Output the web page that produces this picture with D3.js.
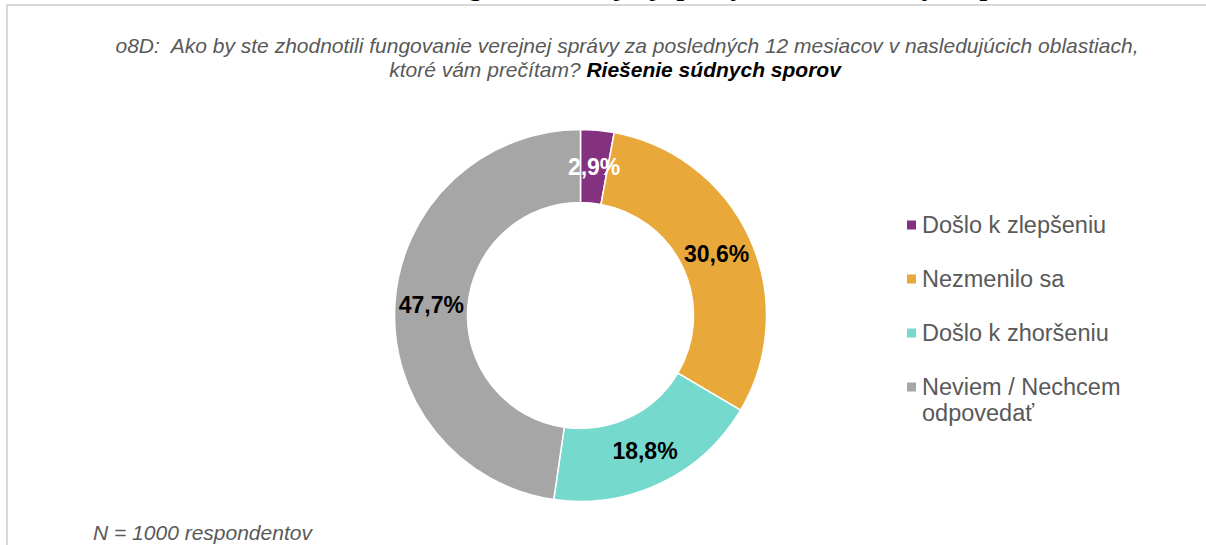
<!DOCTYPE html>
<html>
<head>
<meta charset="utf-8">
<script src="https://cdn.jsdelivr.net/npm/d3@7"></script>
<style>
  body { margin: 0; background: #fff; }
  svg { display: block; }
</style>
</head>
<body>
<script>
// data
const categories = ["Došlo k zlepšeniu", "Nezmenilo sa", "Došlo k zhoršeniu", "Neviem / Nechcem odpovedať"];
const values = [2.9, 30.6, 18.8, 47.7];
const colors = ["#84317F", "#E8A83A", "#76D9CE", "#A6A6A6"];
const labelColors = ["#ffffff", "#000000", "#000000", "#000000"];
const legendLines = [["Došlo k zlepšeniu"], ["Nezmenilo sa"], ["Došlo k zhoršeniu"], ["Neviem / Nechcem", "odpovedať"]];

const W = 1206, H = 545;
const svg = d3.select("body").append("svg").attr("width", W).attr("height", H);

// page title, mostly above the visible area (only descenders show)
svg.append("text")
  .attr("x", 668).attr("y", -5)
  .attr("text-anchor", "middle")
  .style("font-family", "'Liberation Serif', serif")
  .style("font-weight", "bold")
  .style("font-size", "27px")
  .text("Hodnotenie fungovania verejnej správy – riešenie súdnych sporov");

// chart frame
svg.append("rect")
  .attr("x", 7).attr("y", 5)
  .attr("width", W + 20).attr("height", H + 20)
  .attr("fill", "#fff")
  .attr("stroke", "#d9d9d9").attr("stroke-width", 2);

// subtitle
const sub = svg.append("text")
  .attr("text-anchor", "middle")
  .style("font-family", "'Liberation Sans', Arial, sans-serif")
  .style("font-style", "italic")
  .style("font-size", "21px")
  .attr("fill", "#595959");
sub.append("tspan").attr("x", 627).attr("y", 53)
  .text("o8D:  Ako by ste zhodnotili fungovanie verejnej správy za posledných 12 mesiacov v nasledujúcich oblastiach,")
  .style("white-space", "pre");
const l2 = sub.append("tspan").attr("x", 615).attr("y", 77);
l2.append("tspan").text("ktoré vám prečítam? ");
l2.append("tspan").attr("fill", "#000").style("font-weight", "bold").text("Riešenie súdnych sporov");

// donut
const cx = 580.5, cy = 315.5, rOut = 186, rIn = 113;
const pie = d3.pie().sort(null).value(d => d)(values);
const arc = d3.arc().innerRadius(rIn).outerRadius(rOut);
const labelArc = d3.arc().innerRadius((rIn + rOut) / 2).outerRadius((rIn + rOut) / 2);
const g = svg.append("g").attr("transform", `translate(${cx},${cy})`);

g.selectAll("path").data(pie).join("path")
  .attr("d", arc)
  .attr("fill", (d, i) => colors[i])
  .attr("stroke", "#fff").attr("stroke-width", 1.5);

const fmt = v => v.toFixed(1).replace(".", ",") + "%";
g.selectAll("text").data(pie).join("text")
  .attr("transform", d => `translate(${labelArc.centroid(d)})`)
  .attr("text-anchor", "middle")
  .attr("dy", "0.36em")
  .style("font-family", "'Liberation Sans', Arial, sans-serif")
  .style("font-weight", "bold")
  .style("font-size", "23px")
  .attr("fill", (d, i) => labelColors[i])
  .text(d => fmt(d.data));

// legend
const legY = d3.scalePoint().domain(categories).range([225, 387]);
const leg = svg.append("g");
categories.forEach((c, i) => {
  const y = legY(c);
  leg.append("rect").attr("x", 907).attr("y", y - 4.5).attr("width", 9).attr("height", 9).attr("fill", colors[i]);
  const t = leg.append("text")
    .style("font-family", "'Liberation Sans', Arial, sans-serif")
    .style("font-size", "23.5px")
    .attr("fill", "#595959");
  legendLines[i].forEach((ln, j) => {
    t.append("tspan").attr("x", 922).attr("y", y + 8 + j * 26).text(ln);
  });
});

// footer
svg.append("text")
  .attr("x", 93).attr("y", 540)
  .style("font-family", "'Liberation Sans', Arial, sans-serif")
  .style("font-style", "italic")
  .style("font-size", "21px")
  .attr("fill", "#595959")
  .text("N = 1000 respondentov");
</script>
</body>
</html>
